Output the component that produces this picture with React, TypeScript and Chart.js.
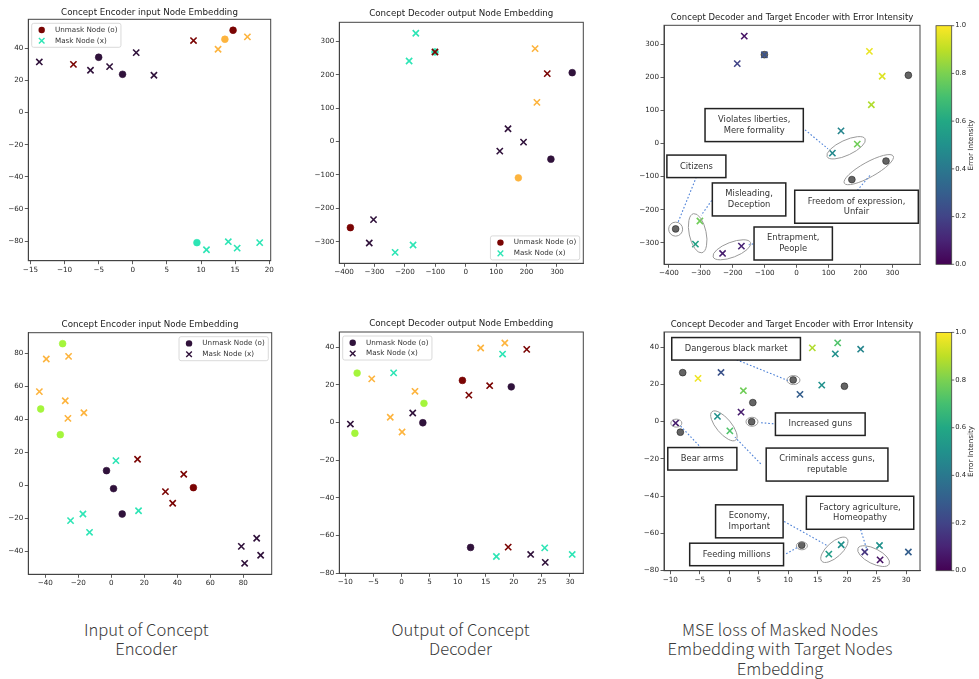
import React, { useEffect, useRef } from "react";
import { Chart, registerables } from "chart.js";

Chart.register(...registerables);

// ---------------- palettes ----------------
const clusterPalette = ["#30123b", "#2de5b5", "#a4f53c", "#fdb43e", "#7a0403"];
const viridisStops = ["#440154", "#482475", "#414487", "#355f8d", "#2a788e", "#21918c", "#22a884", "#44bf70", "#7ad151", "#bddf26", "#fde725"];

// ---------------- top row: encoder input ----------------
const topEncUnmaskX = [14.7, 13.5, -5.0, -1.5, 9.4];
const topEncUnmaskY = [51.2, 45.6, 34.4, 23.8, -81.0];
const topEncUnmaskCluster = [4, 3, 0, 0, 1];
const topEncMaskX = [-13.7, -8.7, -6.2, -3.4, 0.5, 3.1, 8.9, 12.5, 16.8, 10.8, 14.0, 15.3, 18.6];
const topEncMaskY = [31.5, 30.0, 26.3, 28.6, 37.3, 23.2, 44.8, 39.4, 47.1, -85.4, -80.4, -84.4, -81.0];
const topEncMaskCluster = [0, 4, 0, 0, 0, 0, 4, 3, 3, 1, 1, 1, 1];

// ---------------- top row: decoder output ----------------
const topDecUnmaskX = [-379, -101, 350, 280, 173];
const topDecUnmaskY = [-258, 268, 206, -53, -109];
const topDecUnmaskCluster = [4, 1, 0, 0, 3];
const topDecMaskX = [-164, -186, -101, 228, 268, 234, 139, 190, 112, -303, -317, -232, -173];
const topDecMaskY = [324, 241, 268, 278, 203, 117, 38, -2, -29, -234, -304, -332, -310];
const topDecMaskCluster = [1, 1, 4, 3, 4, 3, 0, 0, 0, 0, 0, 1, 1];
const topMaskError = [0.05, 0.2, 0.25, 0.97, 0.95, 0.88, 0.45, 0.78, 0.47, 0.78, 0.57, 0.08, 0.1];

// ---------------- bottom row: encoder input ----------------
const botEncUnmaskX = [-29.5, -42.8, -30.9, -2.9, 1.35, 6.6, 49.75];
const botEncUnmaskY = [85.9, 46.3, 30.7, 8.9, -2.0, -17.4, -1.4];
const botEncUnmaskCluster = [2, 2, 2, 0, 0, 0, 4];
const botEncMaskX = [-39.4, -25.9, -43.6, -27.9, -26.3, -16.6, 2.8, 15.9, 43.9, 32.8, 37.2, 16.5, -17.2, -24.7, -13.2, 78.8, 88.1, 80.8, 90.5];
const botEncMaskY = [76.6, 78.2, 56.8, 51.3, 40.6, 44.0, 15.0, 15.8, 6.7, -3.8, -10.9, -15.4, -17.4, -21.4, -28.5, -37.0, -32.1, -47.3, -42.4];
const botEncMaskCluster = [3, 3, 3, 3, 3, 3, 1, 4, 4, 4, 4, 1, 1, 1, 1, 0, 0, 0, 0];

// ---------------- bottom row: decoder output ----------------
const botDecUnmaskX = [-7.9, 4.0, -8.3, 3.8, 10.85, 19.55, 12.3];
const botDecUnmaskY = [26.3, 10.2, -5.7, -0.1, 22.4, 19.0, -66.4];
const botDecUnmaskCluster = [2, 2, 2, 0, 4, 0, 0];
const botDecMaskX = [-5.3, -1.4, 2.4, -2.0, 2.0, -9.1, 0.1, 14.1, 18.4, 18.0, 22.3, 15.7, 12.0, 19.0, 16.9, 23.0, 25.5, 25.6, 30.4];
const botDecMaskY = [23.2, 26.4, 16.6, 2.8, 5.1, -0.8, -5.0, 39.6, 42.3, 36.4, 38.9, 19.6, 14.6, -66.2, -71.2, -70.1, -66.6, -74.3, -70.1];
const botDecMaskCluster = [3, 1, 3, 3, 0, 0, 3, 3, 3, 1, 4, 4, 4, 4, 1, 0, 1, 0, 1];
const botMaskError = [0.98, 0.25, 0.78, 0.5, 0.08, 0.08, 0.72, 0.88, 0.72, 0.5, 0.45, 0.5, 0.3, 0.5, 0.55, 0.15, 0.5, 0.05, 0.3];

// ---------------- ticks ----------------
const topEncTicksX = [-15, -10, -5, 0, 5, 10, 15, 20];
const topEncTicksY = [-80, -60, -40, -20, 0, 20, 40];
const topDecTicksX = [-400, -300, -200, -100, 0, 100, 200, 300];
const topDecTicksY = [-300, -200, -100, 0, 100, 200, 300];
const botEncTicksX = [-40, -20, 0, 20, 40, 60, 80];
const botEncTicksY = [-40, -20, 0, 20, 40, 60, 80];
const botDecTicksX = [-10, -5, 0, 5, 10, 15, 20, 25, 30];
const botDecTicksY = [-80, -60, -40, -20, 0, 20, 40];
const colorbarTicks = [0, 0.2, 0.4, 0.6, 0.8, 1.0];

// ---------------- annotations (data coordinates) ----------------
type Note = {
  text: string[];
  bx: number; by: number; // box centre
  lx1: number; ly1: number; lx2: number; ly2: number; // dotted leader
  ex: number; ey: number; ew: number; eh: number; ea: number; // ellipse (px size, deg)
};
const topNotes: Note[] = [
  { text: ["Violates liberties,", "Mere formality"], bx: -133, by: 55.5, lx1: 9, ly1: 55, lx2: 98, ly2: -16, ex: 155, ey: -13, ew: 42, eh: 15, ea: -25 },
  { text: ["Citizens"], bx: -314, by: -69, lx1: -314, ly1: -101, lx2: -371, ly2: -237, ex: -379, ey: -258.6, ew: 14, eh: 14, ea: 0 },
  { text: ["Misleading,", "Deception"], bx: -149, by: -169, lx1: -266, ly1: -172, lx2: -299, ly2: -217, ex: -310, ey: -271, ew: 40, eh: 17, ea: 78 },
  { text: ["Freedom of expression,", "Unfair"], bx: 187.6, by: -191, lx1: 190, ly1: -142, lx2: 230, ly2: -96, ex: 226, ey: -79, ew: 56, eh: 15, ea: -29 },
  { text: ["Entrapment,", "People"], bx: -10.7, by: -302, lx1: -125, ly1: -301, lx2: -150, ly2: -306, ex: -203, ey: -321, ew: 40, eh: 15, ea: -21 },
];
const botNotes: Note[] = [
  { text: ["Dangerous black market"], bx: 1.16, by: 39.1, lx1: 1.25, ly1: 33.2, lx2: 9.94, ly2: 22.1, ex: 10.9, ey: 22.3, ew: 13, eh: 9, ea: 0 },
  { text: ["Increased guns"], bx: 15.45, by: -1.4, lx1: 7.5, ly1: -1.2, lx2: 5.06, ly2: -0.5, ex: 3.86, ey: -0.1, ew: 12, eh: 9, ea: 0 },
  { text: ["Bear arms"], bx: -4.57, by: -20, lx1: -4.72, ly1: -14.3, lx2: -8.3, ly2: -2.3, ex: -8.98, ey: -0.84, ew: 11, eh: 8, ea: 0 },
  { text: ["Criminals access guns,", "reputable"], bx: 16.6, by: -23.1, lx1: 5.34, ly1: -22.7, lx2: 0.97, ly2: -8.4, ex: -0.91, ey: -2.3, ew: 37, eh: 15, ea: 50 },
  { text: ["Economy,", "Important"], bx: 3.41, by: -53.6, lx1: 9.32, ly1: -53.7, lx2: 16.6, ly2: -66.6, ex: 17.84, ey: -68.9, ew: 34, eh: 15, ea: -42 },
  { text: ["Factory agriculture,", "Homeopathy"], bx: 22.2, by: -49, lx1: 22.3, ly1: -58, lx2: 23.4, ly2: -69.3, ex: 24.5, ey: -72.3, ew: 35, eh: 15, ea: 27 },
  { text: ["Feeding millions"], bx: 1.25, by: -71.4, lx1: 9.66, ly1: -71.05, lx2: 11.48, ly2: -67.8, ex: 12.33, ey: -66.75, ew: 11, eh: 8, ea: 0 },
];

// ---------------- helpers ----------------
const FONT = '"DejaVu Sans", sans-serif';

function hexToRgb(h: string) {
  const n = parseInt(h.slice(1), 16);
  return [(n >> 16) & 255, (n >> 8) & 255, n & 255];
}
function viridis(t: number) {
  const n = viridisStops.length - 1;
  const p = Math.min(Math.max(t, 0), 1) * n;
  const i = Math.min(Math.floor(p), n - 1);
  const f = p - i;
  const a = hexToRgb(viridisStops[i]);
  const b = hexToRgb(viridisStops[i + 1]);
  const c = a.map((v, k) => Math.round(v + (b[k] - v) * f));
  return `rgb(${c[0]},${c[1]},${c[2]})`;
}
function paddedRange(vals: number[]): [number, number] {
  const mn = Math.min(...vals);
  const mx = Math.max(...vals);
  const r = mx - mn;
  return [mn - 0.05 * r, mx + 0.05 * r];
}
function fmtTick(v: number, decimals = 0) {
  const s = decimals ? v.toFixed(decimals) : String(Math.round(v));
  return s.replace("-", "\u2212");
}

type PanelSpec = {
  plot: [number, number, number, number];
  title: string;
  titleSize: number;
  titleGap: number;
  unmaskX: number[];
  unmaskY: number[];
  unmaskFill: string[];
  unmaskEdge: string[];
  maskX: number[];
  maskY: number[];
  maskColor: string[];
  xTicks: number[];
  yTicks: number[];
  legend?: { loc: "upper left" | "upper right" | "lower right"; unmask: string; mask: string };
  colorbar?: boolean;
  notes?: Note[];
};

function drawX(ctx: CanvasRenderingContext2D, x: number, y: number, r: number, color: string, lw: number) {
  ctx.save();
  ctx.strokeStyle = color;
  ctx.lineWidth = lw;
  ctx.beginPath();
  ctx.moveTo(x - r, y - r);
  ctx.lineTo(x + r, y + r);
  ctx.moveTo(x - r, y + r);
  ctx.lineTo(x + r, y - r);
  ctx.stroke();
  ctx.restore();
}

function Panel({ spec }: { spec: PanelSpec }) {
  const ref = useRef<HTMLCanvasElement>(null);
  const [L, T, R, B] = spec.plot;
  const bx = Math.floor(L - 36);
  const by = Math.floor(T - 20);
  const bw = Math.ceil(R + (spec.colorbar ? 64 : 12)) - bx;
  const bh = Math.ceil(B + 18) - by;

  useEffect(() => {
    const canvas = ref.current;
    if (!canvas) return;
    const padL = L - bx;
    const padT = T - by;
    const padR = bx + bw - R;
    const padB = by + bh - B;
    const [xmin, xmax] = paddedRange([...spec.unmaskX, ...spec.maskX]);
    const [ymin, ymax] = paddedRange([...spec.unmaskY, ...spec.maskY]);

    const axis = (ticks: number[], isX: boolean, min: number, max: number) => ({
      type: "linear" as const,
      min,
      max,
      afterBuildTicks: (a: any) => {
        a.ticks = ticks.map((v) => ({ value: v }));
      },
      afterFit: (a: any) => {
        if (isX) a.height = padB;
        else a.width = padL;
      },
      ticks: {
        font: { family: FONT, size: 7.2 },
        color: "#262626",
        padding: 1.5,
        maxRotation: 0,
        autoSkip: false,
        callback: (v: any) => fmtTick(Number(v)),
      },
      grid: { display: true, drawOnChartArea: false, drawTicks: true, tickLength: 3.5, color: "#333", lineWidth: 0.8 },
      border: { display: true, color: "#444", width: 1 },
    });

    const extras = {
      id: "extras",
      beforeDatasetsDraw(chart: any) {
        const { ctx, chartArea: a } = chart;
        ctx.save();
        ctx.strokeStyle = "#444";
        ctx.lineWidth = 1;
        ctx.strokeRect(a.left, a.top, a.right - a.left, a.bottom - a.top);
        ctx.restore();
      },
      afterDatasetsDraw(chart: any) {
        if (!spec.notes) return;
        const { ctx } = chart;
        const sx = chart.scales.x;
        const sy = chart.scales.y;
        const lineH = 10.5;
        const padX = 13;
        const padY = 6;
        ctx.save();
        for (const n of spec.notes) {
          ctx.strokeStyle = "#9a9a9a";
          ctx.lineWidth = 1;
          ctx.beginPath();
          ctx.ellipse(sx.getPixelForValue(n.ex), sy.getPixelForValue(n.ey), n.ew / 2, n.eh / 2, (n.ea * Math.PI) / 180, 0, Math.PI * 2);
          ctx.stroke();
        }
        for (const n of spec.notes) {
          ctx.strokeStyle = "#4a7fd6";
          ctx.lineWidth = 1.1;
          ctx.setLineDash([1.6, 2]);
          ctx.beginPath();
          ctx.moveTo(sx.getPixelForValue(n.lx1), sy.getPixelForValue(n.ly1));
          ctx.lineTo(sx.getPixelForValue(n.lx2), sy.getPixelForValue(n.ly2));
          ctx.stroke();
          ctx.setLineDash([]);
        }
        ctx.font = `8.4px ${FONT}`;
        for (const n of spec.notes) {
          const cx = sx.getPixelForValue(n.bx);
          const cy = sy.getPixelForValue(n.by);
          const tw = Math.max(...n.text.map((t) => ctx.measureText(t).width));
          const w = tw + padX * 2;
          const h = n.text.length * lineH + padY * 2;
          ctx.fillStyle = "#fff";
          ctx.fillRect(cx - w / 2, cy - h / 2, w, h);
          ctx.strokeStyle = "#222";
          ctx.lineWidth = 1.5;
          ctx.strokeRect(cx - w / 2, cy - h / 2, w, h);
          ctx.fillStyle = "#333";
          ctx.textAlign = "center";
          ctx.textBaseline = "middle";
          n.text.forEach((t, i) => {
            ctx.fillText(t, cx, cy - ((n.text.length - 1) * lineH) / 2 + i * lineH);
          });
        }
        ctx.restore();
      },
      afterDraw(chart: any) {
        const { ctx, chartArea: a } = chart;
        ctx.save();
        ctx.font = `${spec.titleSize}px ${FONT}`;
        ctx.fillStyle = "#222";
        ctx.textAlign = "center";
        ctx.textBaseline = "middle";
        ctx.fillText(spec.title, (a.left + a.right) / 2, a.top - spec.titleGap);

        if (spec.legend) {
          const lg = spec.legend;
          ctx.font = `7.2px ${FONT}`;
          const labels = ["Unmask Node (o)", "Mask Node (x)"];
          const tw = Math.max(...labels.map((l) => ctx.measureText(l).width));
          const w = 23.3 + tw + 3.5;
          const h = 24;
          let x = a.left + 3.4;
          let y = a.top + 4;
          if (lg.loc === "upper right") x = a.right - 3.4 - w;
          if (lg.loc === "lower right") {
            x = a.right - 3.6 - w;
            y = a.bottom - 3.4 - h;
          }
          ctx.fillStyle = "rgba(255,255,255,0.85)";
          ctx.strokeStyle = "#d0d0d0";
          ctx.lineWidth = 0.8;
          ctx.beginPath();
          if ((ctx as any).roundRect) (ctx as any).roundRect(x, y, w, h, 2);
          else ctx.rect(x, y, w, h);
          ctx.fill();
          ctx.stroke();
          const r1 = y + 6.7;
          const r2 = y + 17.5;
          ctx.fillStyle = lg.unmask;
          ctx.beginPath();
          ctx.arc(x + 10, r1, 3.2, 0, Math.PI * 2);
          ctx.fill();
          drawX(ctx, x + 10, r2, 2.8, lg.mask, 1.4);
          ctx.fillStyle = "#333";
          ctx.textAlign = "left";
          ctx.textBaseline = "middle";
          ctx.fillText(labels[0], x + 23.3, r1);
          ctx.fillText(labels[1], x + 23.3, r2);
        }

        if (spec.colorbar) {
          const cl = a.right + 16;
          const cr = a.right + 31.7;
          const ct = a.top + 0.4;
          const cb = a.bottom;
          const g = ctx.createLinearGradient(0, cb, 0, ct);
          viridisStops.forEach((c, i) => g.addColorStop(i / (viridisStops.length - 1), c));
          ctx.fillStyle = g;
          ctx.fillRect(cl, ct, cr - cl, cb - ct);
          ctx.strokeStyle = "#444";
          ctx.lineWidth = 0.8;
          ctx.strokeRect(cl, ct, cr - cl, cb - ct);
          ctx.font = `6.8px ${FONT}`;
          ctx.fillStyle = "#262626";
          ctx.textAlign = "left";
          ctx.textBaseline = "middle";
          colorbarTicks.forEach((t) => {
            const yy = cb - t * (cb - ct);
            ctx.beginPath();
            ctx.moveTo(cr, yy);
            ctx.lineTo(cr + 2.5, yy);
            ctx.stroke();
            ctx.fillText(fmtTick(t, 1), cr + 3.5, yy);
          });
          ctx.save();
          ctx.translate(a.right + 51.5, (ct + cb) / 2);
          ctx.rotate(-Math.PI / 2);
          ctx.textAlign = "center";
          ctx.font = `7.2px ${FONT}`;
          ctx.fillText("Error Intensity", 0, 0);
          ctx.restore();
        }
        ctx.restore();
      },
    };

    const chart = new Chart(canvas, {
      type: "scatter",
      data: {
        datasets: [
          {
            label: "Unmask Node (o)",
            data: spec.unmaskX.map((x, i) => ({ x, y: spec.unmaskY[i] })),
            pointStyle: "circle",
            pointRadius: 3.4,
            backgroundColor: spec.unmaskFill,
            borderColor: spec.unmaskEdge,
            borderWidth: 0.6,
            order: 1,
          },
          {
            label: "Mask Node (x)",
            data: spec.maskX.map((x, i) => ({ x, y: spec.maskY[i] })),
            pointStyle: "crossRot",
            pointRadius: 4.4,
            backgroundColor: spec.maskColor,
            borderColor: spec.maskColor,
            borderWidth: 1.6,
            order: 0,
          },
        ],
      },
      options: {
        animation: false,
        responsive: false,
        maintainAspectRatio: false,
        devicePixelRatio: 1,
        events: [],
        layout: { padding: { left: 0, right: padR, top: padT, bottom: 0 } },
        plugins: {
          legend: { display: false },
          tooltip: { enabled: false },
          title: { display: false },
        },
        scales: {
          x: axis(spec.xTicks, true, xmin, xmax) as any,
          y: axis(spec.yTicks, false, ymin, ymax) as any,
        },
      },
      plugins: [extras],
    });
    return () => chart.destroy();
  }, []);

  return (
    <canvas
      ref={ref}
      width={bw}
      height={bh}
      style={{ position: "absolute", left: bx, top: by, width: bw, height: bh }}
    />
  );
}

const gray = (n: number) => new Array(n).fill("rgba(78,78,78,0.88)");
const grayEdge = (n: number) => new Array(n).fill("#222");
const byCluster = (c: number[]) => c.map((k) => clusterPalette[k]);

const panels: PanelSpec[] = [
  {
    plot: [28.3, 19.3, 270.7, 260.7],
    title: "Concept Encoder input Node Embedding",
    titleSize: 8.7,
    titleGap: 6.8,
    unmaskX: topEncUnmaskX,
    unmaskY: topEncUnmaskY,
    unmaskFill: byCluster(topEncUnmaskCluster),
    unmaskEdge: byCluster(topEncUnmaskCluster),
    maskX: topEncMaskX,
    maskY: topEncMaskY,
    maskColor: byCluster(topEncMaskCluster),
    xTicks: topEncTicksX,
    yTicks: topEncTicksY,
    legend: { loc: "upper left", unmask: clusterPalette[4], mask: clusterPalette[1] },
  },
  {
    plot: [339.3, 22.3, 583.3, 263.3],
    title: "Concept Decoder output Node Embedding",
    titleSize: 8.7,
    titleGap: 8.3,
    unmaskX: topDecUnmaskX,
    unmaskY: topDecUnmaskY,
    unmaskFill: byCluster(topDecUnmaskCluster),
    unmaskEdge: byCluster(topDecUnmaskCluster),
    maskX: topDecMaskX,
    maskY: topDecMaskY,
    maskColor: byCluster(topDecMaskCluster),
    xTicks: topDecTicksX,
    yTicks: topDecTicksY,
    legend: { loc: "lower right", unmask: clusterPalette[4], mask: clusterPalette[1] },
  },
  {
    plot: [664, 25.3, 920, 264.3],
    title: "Concept Decoder and Target Encoder with Error Intensity",
    titleSize: 8.5,
    titleGap: 8,
    unmaskX: topDecUnmaskX,
    unmaskY: topDecUnmaskY,
    unmaskFill: gray(topDecUnmaskX.length),
    unmaskEdge: grayEdge(topDecUnmaskX.length),
    maskX: topDecMaskX,
    maskY: topDecMaskY,
    maskColor: topMaskError.map(viridis),
    xTicks: topDecTicksX,
    yTicks: topDecTicksY,
    colorbar: true,
    notes: topNotes,
  },
  {
    plot: [28.3, 332.7, 271.7, 574.3],
    title: "Concept Encoder input Node Embedding",
    titleSize: 8.7,
    titleGap: 7.7,
    unmaskX: botEncUnmaskX,
    unmaskY: botEncUnmaskY,
    unmaskFill: byCluster(botEncUnmaskCluster),
    unmaskEdge: byCluster(botEncUnmaskCluster),
    maskX: botEncMaskX,
    maskY: botEncMaskY,
    maskColor: byCluster(botEncMaskCluster),
    xTicks: botEncTicksX,
    yTicks: botEncTicksY,
    legend: { loc: "upper right", unmask: clusterPalette[0], mask: clusterPalette[0] },
  },
  {
    plot: [339.3, 332, 583.3, 573.3],
    title: "Concept Decoder output Node Embedding",
    titleSize: 8.7,
    titleGap: 8,
    unmaskX: botDecUnmaskX,
    unmaskY: botDecUnmaskY,
    unmaskFill: byCluster(botDecUnmaskCluster),
    unmaskEdge: byCluster(botDecUnmaskCluster),
    maskX: botDecMaskX,
    maskY: botDecMaskY,
    maskColor: byCluster(botDecMaskCluster),
    xTicks: botDecTicksX,
    yTicks: botDecTicksY,
    legend: { loc: "upper left", unmask: clusterPalette[0], mask: clusterPalette[0] },
  },
  {
    plot: [664, 332, 920, 570.7],
    title: "Concept Decoder and Target Encoder with Error Intensity",
    titleSize: 8.5,
    titleGap: 7.3,
    unmaskX: botDecUnmaskX,
    unmaskY: botDecUnmaskY,
    unmaskFill: gray(botDecUnmaskX.length),
    unmaskEdge: grayEdge(botDecUnmaskX.length),
    maskX: botDecMaskX,
    maskY: botDecMaskY,
    maskColor: botMaskError.map(viridis),
    xTicks: botDecTicksX,
    yTicks: botDecTicksY,
    colorbar: true,
    notes: botNotes,
  },
];

const captions = [
  { text: "Input of Concept\nEncoder", cx: 146.3 },
  { text: "Output of Concept\nDecoder", cx: 460.5 },
  { text: "MSE loss of Masked Nodes\nEmbedding with Target Nodes\nEmbedding", cx: 780 },
];

export default function App() {
  return (
    <div
      style={{
        position: "absolute",
        left: 0,
        top: 0,
        width: 979,
        height: 679,
        background: "#fff",
        overflow: "hidden",
      }}
    >
      {panels.map((p, i) => (
        <Panel key={i} spec={p} />
      ))}
      {captions.map((c, i) => (
        <div
          key={i}
          style={{
            position: "absolute",
            left: c.cx - 150,
            top: 620,
            width: 300,
            textAlign: "center",
            whiteSpace: "pre-line",
            fontFamily: '"Noto Sans CJK JP", sans-serif',
            fontWeight: 300,
            fontSize: 16.6,
            lineHeight: "19.4px",
            color: "#3a3a3a",
          }}
        >
          {c.text}
        </div>
      ))}
    </div>
  );
}
